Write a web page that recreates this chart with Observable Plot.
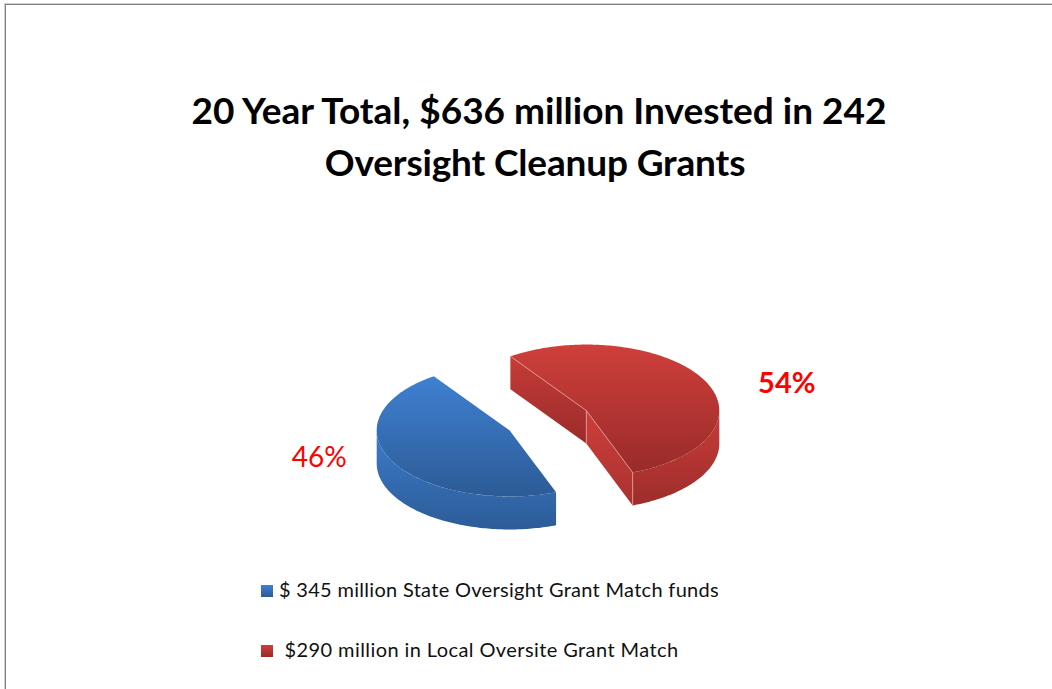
<!DOCTYPE html>
<html>
<head>
<meta charset="utf-8">
<script src="https://cdn.jsdelivr.net/npm/d3@7"></script>
<script src="https://cdn.jsdelivr.net/npm/@observablehq/plot@0.6"></script>
<style>
  html, body { margin: 0; padding: 0; background: #fff; overflow: hidden; }
  body { width: 1052px; height: 689px; position: relative; font-family: Lato, "Open Sans", sans-serif; color: #000; }
  #frame { position: absolute; left: 5px; top: 4px; right: -2px; bottom: -2px; border-top: 1px solid #808080; border-left: 1px solid #808080; box-shadow: -1px -1px 0 #d0d0d0; }
  #title { position: absolute; left: 0; top: 84px; width: 1078px; text-align: center; margin: 0; font-size: 37px; font-weight: 700; line-height: 52px; }
  #title span { display: block; }
  #title span + span { position: relative; left: -4px; letter-spacing: -0.16px; }
  #chart { position: absolute; left: 0; top: 200px; }
  #chart svg { display: block; }
  .legend-item { position: absolute; font-size: 20px; line-height: 24px; white-space: pre; color: #111; }
  .swatch { position: absolute; width: 12px; height: 12px; }
</style>
</head>
<body>
<div id="frame"></div>
<h1 id="title"></h1>
<div id="chart"></div>
<div id="legend"></div>
<script>
const titleLines = ["20 Year Total, $636 million Invested in 242", "Oversight Cleanup Grants"];
const categories = ["$ 345 million State Oversight Grant Match funds", " $290 million in Local Oversite Grant Match"];
const shares = [46, 54];
const sliceNames = ["state", "local"];

// Pie parameters: a unit circle, tilted by the scales, with slices pulled away from the middle.
const firstSliceAngle = 159.6;
const explode = 0.325;
const depth = 0.5;

const rad = (deg) => (deg * Math.PI) / 180;
const total = d3.sum(shares);
let running = firstSliceAngle;
const slices = shares.map((share, i) => {
  const a0 = running;
  const a1 = a0 + (share / total) * 360;
  running = a1;
  const mid = (a0 + a1) / 2;
  return {
    name: sliceNames[i], share, a0, a1, mid,
    cu: explode * Math.sin(rad(mid)),
    cv: -explode * Math.cos(rad(mid))
  };
});
const rimPoint = (s, deg, drop = 0) => ({u: s.cu + Math.sin(rad(deg)), v: s.cv - Math.cos(rad(deg)) + drop});
const apex = (s, drop = 0) => ({u: s.cu, v: s.cv + drop});
const arc = (s, from, to, drop = 0) => {
  const n = Math.max(2, Math.ceil(Math.abs(to - from)));
  return d3.range(n + 1).map((k) => rimPoint(s, from + ((to - from) * k) / n, drop));
};
const topFace = (s) => [apex(s), ...arc(s, s.a0, s.a1)];
const wall = (s) => {
  const out = [];
  for (const k of [0, 1]) {
    const from = Math.max(s.a0, 90 + 360 * k), to = Math.min(s.a1, 270 + 360 * k);
    if (to > from) out.push([...arc(s, from, to), ...arc(s, to, from, depth)]);
  }
  return out[0];
};
const cutFace = (s, deg) => [apex(s), rimPoint(s, deg), rimPoint(s, deg, depth), apex(s, depth)];

const [blue, red] = slices;
const edges = [
  {id: "a", pts: [rimPoint(red, red.a0), apex(red), rimPoint(red, red.a1), rimPoint(red, red.a1, depth)]},
  {id: "b", pts: [apex(red), apex(red, depth)]}
].flatMap((e) => e.pts.map((p) => ({...p, id: e.id})));

const gradients = {
  blueTop: ["#3f80d1", "#2c5b96"],
  blueWall: ["#3c7bc9", "#2c5c98"],
  redTop: ["#cf3f3b", "#982b29"],
  redWall: ["#c93c38", "#9d2d2b"],
  redCutA: ["#c53b37", "#9a2c2a"],
  redCutB: ["#cd3e3a", "#a93230"]
};
const defsMark = () => {
  const defs = d3.create("svg:defs");
  for (const [id, [c0, c1]] of Object.entries(gradients)) {
    const g = defs.append("linearGradient").attr("id", id).attr("x1", 0).attr("y1", 0).attr("x2", 0).attr("y2", 1);
    g.append("stop").attr("offset", 0).attr("stop-color", c0);
    g.append("stop").attr("offset", 1).attr("stop-color", c1);
  }
  return defs.node();
};
const poly = (pts, id) => Plot.line(pts, {x: "u", y: "v", fill: `url(#${id})`, stroke: "none", curve: "linear"});

const cx = 547.5, cy = 420, rx = 133, ry = 66, svgTop = 200, svgH = 360, svgW = 1052;
const plot = Plot.plot({
  width: svgW, height: svgH, margin: 0,
  x: {domain: [-cx / rx, (svgW - cx) / rx], range: [0, svgW], axis: null},
  y: {domain: [(svgTop - cy) / ry, (svgTop + svgH - cy) / ry], range: [0, svgH], axis: null},
  style: {background: "transparent", overflow: "visible"},
  marks: [
    defsMark,
    poly(wall(blue), "blueWall"),
    poly(topFace(blue), "blueTop"),
    poly(cutFace(red, red.a0), "redCutA"),
    poly(cutFace(red, red.a1), "redCutB"),
    poly(wall(red), "redWall"),
    poly(topFace(red), "redTop"),
    Plot.line(edges, {x: "u", y: "v", z: "id", stroke: "#e3a09d", strokeWidth: 0.8, curve: "linear"}),
    Plot.text([blue], {
      x: (d) => d.cu + 1.65 * Math.sin(rad(d.mid)), y: (d) => d.cv - 0.6 * Math.cos(rad(d.mid)),
      text: (d) => d.share + "%", fill: "#ff0000", fontSize: 28, fontFamily: "Lato", fontWeight: 400, dx: 4, dy: 9
    }),
    Plot.text([red], {
      x: (d) => d.cu + 1.65 * Math.sin(rad(d.mid)), y: (d) => d.cv - 0.6 * Math.cos(rad(d.mid)),
      text: (d) => d.share + "%", fill: "#ff0000", fontSize: 29, fontFamily: "Lato", fontWeight: 700, dx: 6, dy: -8
    })
  ]
});
document.getElementById("chart").appendChild(plot);

const titleEl = document.getElementById("title");
titleLines.forEach((line) => {
  const span = document.createElement("span");
  span.textContent = line;
  titleEl.appendChild(span);
});

const legendRows = [
  {swatchX: 261, swatchY: 585, textX: 279, textY: 577, spacing: 0.3, bg: "linear-gradient(#3f80d1,#2c5b96)"},
  {swatchX: 261, swatchY: 645, textX: 279, textY: 637, spacing: 0.41, bg: "linear-gradient(#cf3f3b,#982b29)"}
];
const legend = document.getElementById("legend");
categories.forEach((name, i) => {
  const r = legendRows[i];
  const sw = document.createElement("div");
  sw.className = "swatch";
  sw.style.cssText = `left:${r.swatchX}px;top:${r.swatchY}px;background:${r.bg}`;
  const t = document.createElement("div");
  t.className = "legend-item";
  t.style.cssText = `left:${r.textX}px;top:${r.textY}px;letter-spacing:${r.spacing}px`;
  t.textContent = name;
  legend.append(sw, t);
});
</script>
</body>
</html>
